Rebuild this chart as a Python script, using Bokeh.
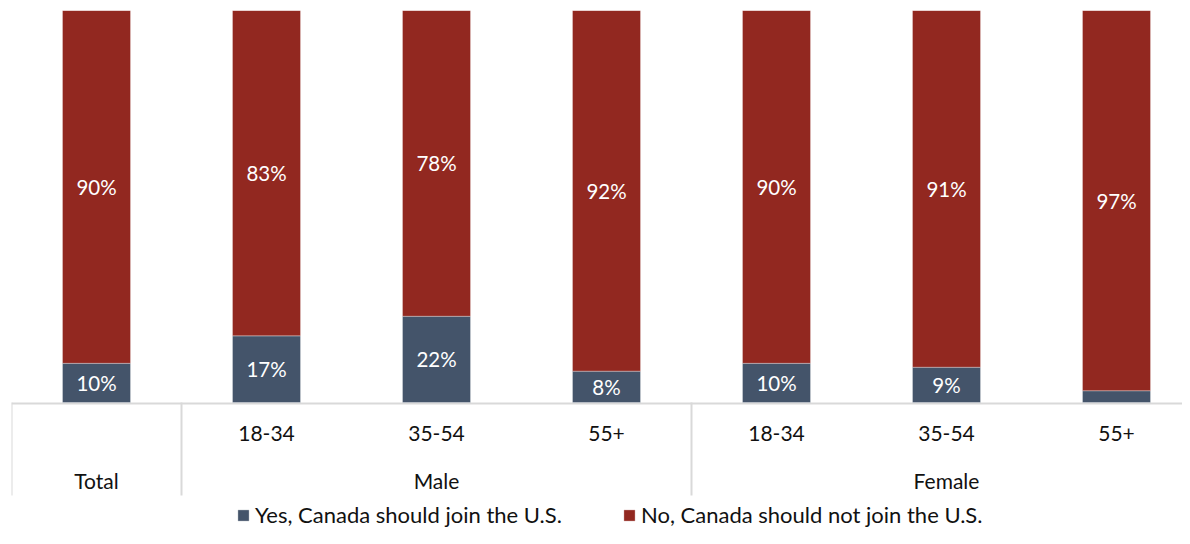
from bokeh.plotting import figure
from bokeh.models import Range1d, ColumnDataSource, Legend, LegendItem
from bokeh.core.properties import value
from bokeh.embed import file_html
from bokeh.resources import INLINE

# ---- data ----
groups = ["Total", "Male", "Male", "Male", "Female", "Female", "Female"]
subgroups = ["", "18-34", "35-54", "55+", "18-34", "35-54", "55+"]
yes_vals = [10, 17, 22, 8, 10, 9, 3]
no_vals = [90, 83, 78, 92, 90, 91, 97]
series_names = ["Yes, Canada should join the U.S.", "No, Canada should not join the U.S."]
series_colors = ["#44546A", "#922820"]

# ---- geometry (px) ----
FIG_W, FIG_H = 1182, 528
LEFT, TOP = 11, 10
CAT_PX = 170.0
FRAME_W = FIG_W - LEFT
PX_PER_UNIT = 392 / 100.0
BASE = 402  # pixel row of the zero line
Y_MIN = -(FIG_H - BASE) / PX_PER_UNIT
FONT = "Lato"

def ypix(py):
    return -(py - BASE) / PX_PER_UNIT

n = len(groups)
xs = [i + 0.5 for i in range(n)]
yes_top = yes_vals
no_bottom = yes_vals
no_top = [y + v for y, v in zip(yes_vals, no_vals)]

src = ColumnDataSource(dict(
    x=xs, yes_b=[0] * n, yes_t=yes_top, no_b=no_bottom, no_t=no_top,
    yes_mid=[t / 2 for t in yes_top],
    no_mid=[b + (t - b) / 2 for b, t in zip(no_bottom, no_top)],
    yes_lab=[f"{v}%" if v >= 5 else "" for v in yes_vals],
    no_lab=[f"{v}%" if v >= 5 else "" for v in no_vals],
))

p = figure(width=FIG_W, height=FIG_H, output_backend="svg", toolbar_location=None,
           x_range=Range1d(0, FRAME_W / CAT_PX), y_range=Range1d(Y_MIN, 100),
           x_axis_location=None, y_axis_location=None,
           min_border_left=LEFT, min_border_right=0, min_border_top=TOP, min_border_bottom=0)
p.grid.visible = False
p.outline_line_color = None
p.background_fill_color = "white"
p.border_fill_color = "white"

grey = "#D9D9D9"
# category axis line
p.segment(x0=[0], y0=[ypix(403)], x1=[n], y1=[ypix(403)], line_color=grey, line_width=2)

# group separators
bounds = [0] + [i for i in range(1, n) if groups[i] != groups[i - 1]]
p.segment(x0=bounds, y0=[0] * len(bounds), x1=bounds, y1=[ypix(495)] * len(bounds),
          line_color=grey, line_width=2)

# bars
r_yes = p.vbar(x="x", bottom="yes_b", top="yes_t", width=0.4, source=src,
               fill_color=series_colors[0], line_color="white", line_alpha=0.3, line_width=1)
r_no = p.vbar(x="x", bottom="no_b", top="no_t", width=0.4, source=src,
              fill_color=series_colors[1], line_color="white", line_alpha=0.3, line_width=1)

# data labels
for col_y, col_t in (("yes_mid", "yes_lab"), ("no_mid", "no_lab")):
    p.text(x="x", y=col_y, text=col_t, source=src, text_color="white",
           text_font=value(FONT), text_font_size="20.5px",
           text_align="center", text_baseline="middle")

# sub-category labels
p.text(x=xs, y=[ypix(433)] * n, text=subgroups, text_color="#111111",
       text_font=value(FONT), text_font_size="21px",
       text_align="center", text_baseline="middle")

# group labels
grp_names, grp_x = [], []
edges = bounds + [n]
for a, b in zip(edges[:-1], edges[1:]):
    grp_names.append(groups[a])
    grp_x.append((a + b) / 2)
p.text(x=grp_x, y=[ypix(480)] * len(grp_x), text=grp_names, text_color="#111111",
       text_font=value(FONT), text_font_size="21px",
       text_align="center", text_baseline="middle")

# legends
for r, name, lx in ((r_yes, series_names[0], 225), (r_no, series_names[1], 611)):
    lg = Legend(items=[LegendItem(label=name, renderers=[r])], location=(lx, 0),
                orientation="horizontal", padding=0, margin=0, border_line_color=None,
                background_fill_alpha=0, glyph_width=14, glyph_height=14,
                label_standoff=5, label_text_font=FONT, label_text_font_size="22px",
                label_text_color="#111111", label_height=22)
    p.add_layout(lg)

open("out.html", "w").write(file_html(p, INLINE))
